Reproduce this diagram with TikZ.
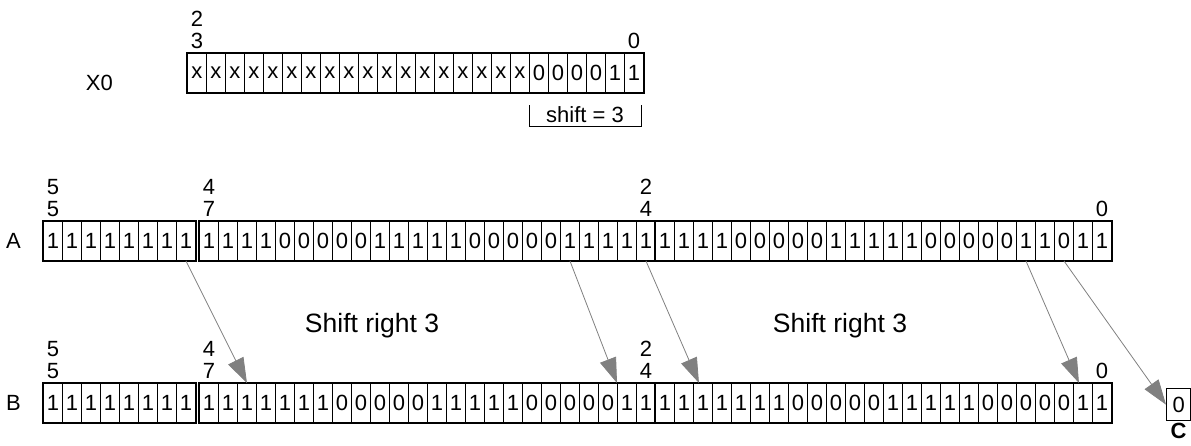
\documentclass[tikz,border=0pt]{standalone}
\usepackage{fontspec}
\setmainfont{Liberation Sans}
\usepackage{tikz}
\usetikzlibrary{arrows.meta,positioning}
\definecolor{shiftGray}{RGB}{128,128,128}
\definecolor{cellInk}{RGB}{0,0,0}
\newcommand{\bitfont}{\fontsize{22}{22}\selectfont}
\newcommand{\notefont}{\fontsize{26.5}{30}\selectfont}
\tikzset{
    bitcell/.style={draw=cellInk, line width=0.9pt, anchor=north west, minimum width=19pt,
        minimum height=39pt, inner sep=0pt, font=\bitfont},
    bitbox/.style={draw=cellInk, line width=1.3pt},
    bitidx/.style={font=\bitfont, align=center, inner sep=0pt},
    rowname/.style={font=\bitfont, inner sep=0pt},
    shiftarrow/.style={shiftGray, line width=0.8pt, -{Triangle[length=25pt,width=17pt]}},
}

\begin{document}
\begin{tikzpicture}[x=1pt, y=-1pt]
    \useasboundingbox (0,0) rectangle (1191,445);

    % X0 register, bits 23..0
    \foreach \b [count=\i from 0] in {x,x,x,x,x,x,x,x,x,x,x,x,x,x,x,x,x,x,0,0,0,0,1,1}
        \node[bitcell] (x\i) at ({187+19*\i},53) {\b};
    \draw[bitbox] (x0.north west) rectangle (x23.south east);
    \node[bitidx, above=4pt of x0] (x0hi) {2\\3};
    \node[bitidx, above=4pt of x23] (x0lo) {0};
    \node[rowname, left=74pt of x0, yshift=-10pt] (nameX) {X0};

    % shift amount bracket under bits 5..0
    \draw[line width=1pt] (529,105) -- (529,126) -- (641,126) -- (641,105);
    \node[font=\bitfont] (shiftamt) at (585,115) {shift = 3};

    % A: bits 55..48, then bits 47..0
    \foreach \i in {0,...,7}
        \node[bitcell] (ah\i) at ({43+19*\i},221) {1};
    \foreach \b [count=\i from 0] in {1,1,1,1,0,0,0,0,0,1,1,1,1,1,0,0,0,0,0,1,1,1,1,1,
                                     1,1,1,1,0,0,0,0,0,1,1,1,1,1,0,0,0,0,0,1,1,0,1,1}
        \node[bitcell] (a\i) at ({199+19*\i},221) {\b};
    \draw[bitbox] (ah0.north west) rectangle (ah7.south east);
    \draw[bitbox] (a0.north west) rectangle (a47.south east);
    \draw[line width=2pt] (a24.north west) -- (a24.south west);
    \node[bitidx, above=4pt of ah0] (aidx55) {5\\5};
    \node[bitidx, above=4pt of a0] (aidx47) {4\\7};
    \node[bitidx, above=4pt of a23] (aidx24) {2\\4};
    \node[bitidx, above=4pt of a47] (aidx0) {0};
    \node[rowname, left=22pt of ah0] (nameA) {A};

    % B: A shifted right by 3
    \foreach \i in {0,...,7}
        \node[bitcell] (bh\i) at ({43+19*\i},383) {1};
    \foreach \b [count=\i from 0] in {1,1,1,1,1,1,1,0,0,0,0,0,1,1,1,1,1,0,0,0,0,0,1,1,
                                     1,1,1,1,1,1,1,0,0,0,0,0,1,1,1,1,1,0,0,0,0,0,1,1}
        \node[bitcell] (b\i) at ({199+19*\i},383) {\b};
    \draw[bitbox] (bh0.north west) rectangle (bh7.south east);
    \draw[bitbox] (b0.north west) rectangle (b47.south east);
    \draw[line width=2pt] (b24.north west) -- (b24.south west);
    \node[bitidx, above=4pt of bh0] (bidx55) {5\\5};
    \node[bitidx, above=4pt of b0] (bidx47) {4\\7};
    \node[bitidx, above=4pt of b23] (bidx24) {2\\4};
    \node[bitidx, above=4pt of b47] (bidx0) {0};
    \node[rowname, left=22pt of bh0] (nameB) {B};

    % carry out
    \node[bitcell, line width=1.3pt, minimum width=24pt, minimum height=32pt] (cbit) at (1166,388) {0};
    \node[rowname, font=\bitfont\bfseries, below=2pt of cbit] (nameC) {C};

    % shift arrows
    \draw[shiftarrow] (ah7.south) -- (b2.north);
    \draw[shiftarrow] (a19.south) -- (b22.north west);
    \draw[shiftarrow] (a23.south) -- ([xshift=-4pt]b26.north);
    \draw[shiftarrow] (a43.south) -- ([xshift=-4pt]b46.north);
    \draw[shiftarrow] (a45.south) -- (cbit.west);

    % labels
    \node[font=\notefont] (shiftlo) at (372,326) {Shift right 3};
    \node[font=\notefont] (shifthi) at (840,326) {Shift right 3};
\end{tikzpicture}
\end{document}
